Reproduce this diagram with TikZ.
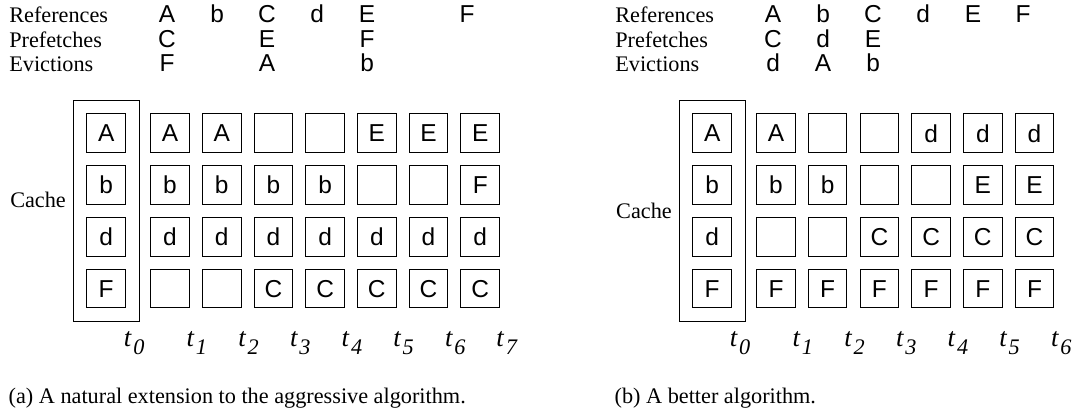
\documentclass[tikz,border=0pt]{standalone}
\usepackage{fontspec}
\setmainfont{Liberation Serif}
\newfontfamily\cellfont{Liberation Sans}
\usepackage{tikz}
\usetikzlibrary{positioning, fit}

\newcommand{\tstep}[1]{\textit{t}\kern0.6pt\raisebox{-0.6ex}{\fontsize{10}{12}\selectfont\textit{#1}}}

\begin{document}
\begin{tikzpicture}[
  font=\fontsize{10}{12}\selectfont,
  cell/.style={rectangle, draw, line width=0.45pt, minimum size=0.61cm,
               inner sep=0pt, font=\cellfont\fontsize{11}{13}\selectfont},
  frame/.style={rectangle, draw, line width=0.45pt, inner sep=0.21cm},
  lbl/.style={anchor=base west, inner sep=0pt},
  sym/.style={anchor=base, inner sep=0pt, font=\cellfont\fontsize{11}{13}\selectfont},
  tlbl/.style={inner sep=0pt, font=\fontsize{12}{14}\selectfont}
]
\useasboundingbox (0,0) rectangle (16.97,-6.62);

% --- (a) natural extension ---
\node[lbl] (a-ref) at (0.14,-0.36) {References};
\node[lbl] (a-pre) at (0.14,-0.75) {Prefetches};
\node[lbl] (a-evi) at (0.14,-1.13) {Evictions};
\foreach \s/\c in {1/A,2/b,3/C,4/d,5/E,7/F}
  \node[sym] (a-ref\s) at ({2.64+(\s-1)*0.79},-0.36) {\c};
\foreach \s/\c in {1/C,3/E,5/F}
  \node[sym] (a-pre\s) at ({2.64+(\s-1)*0.79},-0.75) {\c};
\foreach \s/\c in {1/F,3/A,5/b}
  \node[sym] (a-evi\s) at ({2.64+(\s-1)*0.79},-1.13) {\c};

% t0 column and its frame
\node[cell] (a-0-1) at (1.678,-2.106) {A};
\node[cell] (a-0-2) at (1.678,-2.924) {b};
\node[cell] (a-0-3) at (1.678,-3.742) {d};
\node[cell] (a-0-4) at (1.678,-4.560) {F};
\node[frame, fit=(a-0-1)(a-0-4)] (a-frame) {};
\node[inner sep=0pt, left=0.1cm of a-frame, yshift=0.17cm] (a-cache) {Cache};

% cache contents over time
\foreach \k/\p/\q/\r/\w in {1/A/b/d/{},2/A/b/d/{},3/{}/b/d/C,4/{}/b/d/C,
                            5/E/{}/d/C,6/E/{}/d/C,7/E/F/d/C} {
  \node[cell] (a-\k-1) at ({2.686+(\k-1)*0.817},-2.106) {\p};
  \node[cell] (a-\k-2) at ({2.686+(\k-1)*0.817},-2.924) {\q};
  \node[cell] (a-\k-3) at ({2.686+(\k-1)*0.817},-3.742) {\r};
  \node[cell] (a-\k-4) at ({2.686+(\k-1)*0.817},-4.560) {\w};
}

% time steps
\node[tlbl] (a-t0) at (2.12,-5.42) {\tstep{0}};
\foreach \k in {1,...,7}
  \node[tlbl] (a-t\k) at ({3.11+(\k-1)*0.817},-5.42) {\tstep{\k}};

\node[lbl] (a-cap) at (0.13,-6.38) {(a) A natural extension to the aggressive algorithm.};

% --- (b) better algorithm ---
\begin{scope}[xshift=9.575cm]
\node[lbl] (b-ref) at (0.14,-0.36) {References};
\node[lbl] (b-pre) at (0.14,-0.75) {Prefetches};
\node[lbl] (b-evi) at (0.14,-1.13) {Evictions};
\foreach \s/\c in {1/A,2/b,3/C,4/d,5/E,6/F}
  \node[sym] (b-ref\s) at ({2.64+(\s-1)*0.79},-0.36) {\c};
\foreach \s/\c in {1/C,2/d,3/E}
  \node[sym] (b-pre\s) at ({2.64+(\s-1)*0.79},-0.75) {\c};
\foreach \s/\c in {1/d,2/A,3/b}
  \node[sym] (b-evi\s) at ({2.64+(\s-1)*0.79},-1.13) {\c};

\node[cell] (b-0-1) at (1.678,-2.106) {A};
\node[cell] (b-0-2) at (1.678,-2.924) {b};
\node[cell] (b-0-3) at (1.678,-3.742) {d};
\node[cell] (b-0-4) at (1.678,-4.560) {F};
\node[frame, fit=(b-0-1)(b-0-4)] (b-frame) {};
\node[inner sep=0pt, left=0.1cm of b-frame] (b-cache) {Cache};

\foreach \k/\p/\q/\r/\w in {1/A/b/{}/F,2/{}/b/{}/F,3/{}/{}/C/F,
                            4/d/{}/C/F,5/d/E/C/F,6/d/E/C/F} {
  \node[cell] (b-\k-1) at ({2.686+(\k-1)*0.817},-2.106) {\p};
  \node[cell] (b-\k-2) at ({2.686+(\k-1)*0.817},-2.924) {\q};
  \node[cell] (b-\k-3) at ({2.686+(\k-1)*0.817},-3.742) {\r};
  \node[cell] (b-\k-4) at ({2.686+(\k-1)*0.817},-4.560) {\w};
}

\node[tlbl] (b-t0) at (2.12,-5.42) {\tstep{0}};
\foreach \k in {1,...,6}
  \node[tlbl] (b-t\k) at ({3.11+(\k-1)*0.817},-5.42) {\tstep{\k}};

\node[lbl] (b-cap) at (0.13,-6.38) {(b) A better algorithm.};
\end{scope}

\end{tikzpicture}
\end{document}
